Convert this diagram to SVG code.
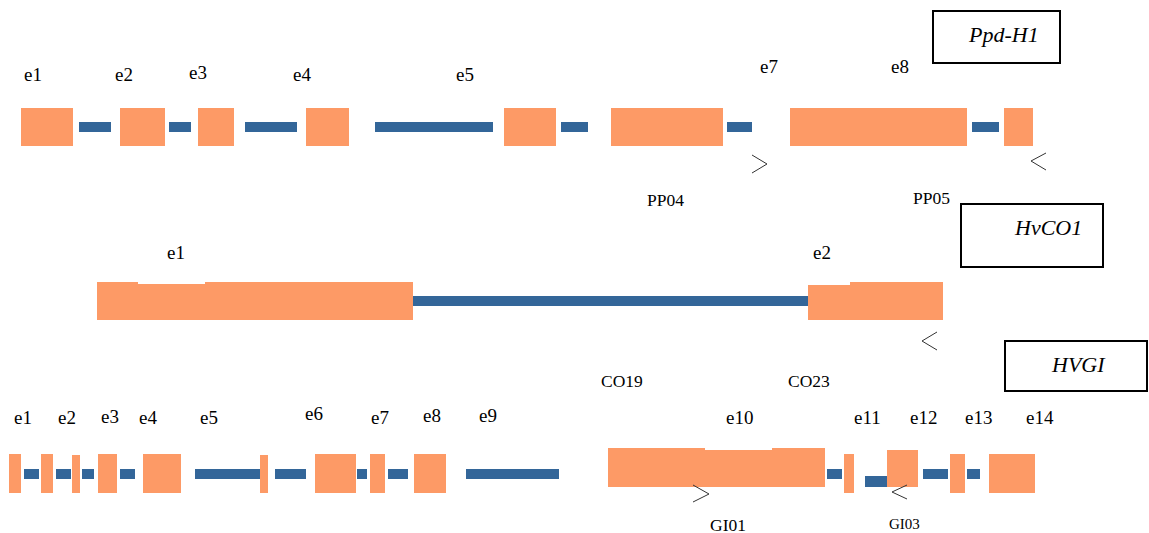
<svg xmlns="http://www.w3.org/2000/svg" width="1149" height="533" viewBox="0 0 1149 533">
<style>
.ex{fill:#FD9A66}
.in{fill:#336699}
.lb{font-family:"Liberation Serif",serif;font-size:19px;fill:#000}
.pr{font-family:"Liberation Serif",serif;font-size:17.5px;fill:#000}
.tt{font-family:"Liberation Serif",serif;font-size:22px;font-style:italic;fill:#000}
.bx{fill:#fff;stroke:#000;stroke-width:2}
.ar{fill:none;stroke:#333;stroke-width:1}
</style>
<rect width="1149" height="533" fill="#fff"/>

<g id="ppd-h1-title">
<rect class="bx" x="933" y="11" width="127" height="52"/>
<text class="tt" x="969" y="42">Ppd-H1</text>
</g>
<g id="ppd-h1-gene">
<rect class="ex" x="21" y="108" width="52" height="38"/>
<rect class="in" x="79" y="122" width="32" height="10"/>
<rect class="ex" x="120" y="108" width="45" height="38"/>
<rect class="in" x="169" y="122" width="22" height="10"/>
<rect class="ex" x="198" y="108" width="36" height="38"/>
<rect class="in" x="245" y="122" width="52" height="10"/>
<rect class="ex" x="306" y="108" width="43" height="38"/>
<rect class="in" x="375" y="122" width="118" height="10"/>
<rect class="ex" x="504" y="108" width="52" height="38"/>
<rect class="in" x="561" y="122" width="27" height="10"/>
<rect class="ex" x="611" y="108" width="112" height="38"/>
<rect class="in" x="727" y="122" width="25" height="10"/>
<rect class="ex" x="790" y="108" width="177" height="38"/>
<rect class="in" x="972" y="122" width="27" height="10"/>
<rect class="ex" x="1004" y="108" width="29" height="38"/>
</g>
<g id="ppd-h1-labels">
<text class="lb" x="24" y="81">e1</text>
<text class="lb" x="115" y="81">e2</text>
<text class="lb" x="189" y="79">e3</text>
<text class="lb" x="293" y="81">e4</text>
<text class="lb" x="456" y="81">e5</text>
<text class="lb" x="760" y="73">e7</text>
<text class="lb" x="891" y="73">e8</text>
<text class="pr" x="647" y="206">PP04</text>
<text class="pr" x="913" y="204">PP05</text>
</g>

<g id="hvco1-title">
<rect class="bx" x="961" y="204" width="142" height="63"/>
<text class="tt" x="1015" y="235">HvCO1</text>
</g>
<g id="hvco1-gene">
<path class="ex" d="M97,282 H138 V284 H205 V282 H413 V320 H97 Z"/>
<rect class="in" x="413" y="296" width="395" height="10"/>
<path class="ex" d="M808,285 H850 V282 H943 V320 H808 Z"/>
</g>
<g id="hvco1-labels">
<text class="lb" x="167" y="259">e1</text>
<text class="lb" x="813" y="259">e2</text>
<text class="pr" x="601" y="387">CO19</text>
<text class="pr" x="788" y="387">CO23</text>
</g>

<g id="hvgi-title">
<rect class="bx" x="1005" y="341" width="142" height="50"/>
<text class="tt" x="1052" y="372">HVGI</text>
</g>
<g id="hvgi-gene">
<rect class="ex" x="9" y="454" width="12" height="39"/>
<rect class="in" x="24" y="469" width="15" height="10"/>
<rect class="ex" x="41" y="454" width="12" height="39"/>
<rect class="in" x="56" y="469" width="15" height="10"/>
<rect class="ex" x="72" y="455" width="8" height="38"/>
<rect class="in" x="82" y="469" width="12" height="10"/>
<rect class="ex" x="98" y="454" width="19" height="39"/>
<rect class="in" x="120" y="469" width="15" height="10"/>
<rect class="ex" x="143" y="454" width="38" height="39"/>
<rect class="in" x="195" y="469" width="65" height="10"/>
<rect class="ex" x="260" y="455" width="8" height="38"/>
<rect class="in" x="275" y="469" width="31" height="10"/>
<rect class="ex" x="315" y="454" width="41" height="39"/>
<rect class="in" x="357" y="469" width="10" height="10"/>
<rect class="ex" x="370" y="454" width="15" height="39"/>
<rect class="in" x="388" y="469" width="20" height="10"/>
<rect class="ex" x="414" y="454" width="32" height="39"/>
<rect class="in" x="466" y="469" width="93" height="10"/>
<path class="ex" d="M608,448 H705 V450 H772 V448 H825 V487 H608 Z"/>
<rect class="in" x="827" y="469" width="15" height="10"/>
<rect class="ex" x="844" y="454" width="10" height="39"/>
<rect class="in" x="865" y="476" width="22" height="11"/>
<rect class="ex" x="887" y="450" width="31" height="37"/>
<rect class="in" x="923" y="469" width="25" height="10"/>
<rect class="ex" x="950" y="454" width="15" height="39"/>
<rect class="in" x="967" y="469" width="13" height="10"/>
<rect class="ex" x="989" y="454" width="46" height="39"/>
</g>
<g id="hvgi-labels">
<text class="lb" x="14" y="424">e1</text>
<text class="lb" x="58" y="424">e2</text>
<text class="lb" x="101" y="423">e3</text>
<text class="lb" x="139" y="424">e4</text>
<text class="lb" x="200" y="424">e5</text>
<text class="lb" x="305" y="420">e6</text>
<text class="lb" x="371" y="424">e7</text>
<text class="lb" x="423" y="422">e8</text>
<text class="lb" x="479" y="422">e9</text>
<text class="lb" x="726" y="424">e10</text>
<text class="lb" x="854" y="424">e11</text>
<text class="lb" x="910" y="424">e12</text>
<text class="lb" x="965" y="424">e13</text>
<text class="lb" x="1026" y="424">e14</text>
<text class="pr" x="710" y="531">GI01</text>
<text class="pr" x="889" y="529" style="font-size:15px">GI03</text>
</g>

<g id="primers">
<path class="ar" d="M752,155 L767,164 L752,173"/>
<path class="ar" d="M1046,153 L1031,161 L1046,170"/>
<path class="ar" d="M937,332 L922,341 L937,350"/>
<path class="ar" d="M693,485 L709,494 L693,502"/>
<path class="ar" d="M907,485 L892,492 L907,499"/>
</g>
</svg>
